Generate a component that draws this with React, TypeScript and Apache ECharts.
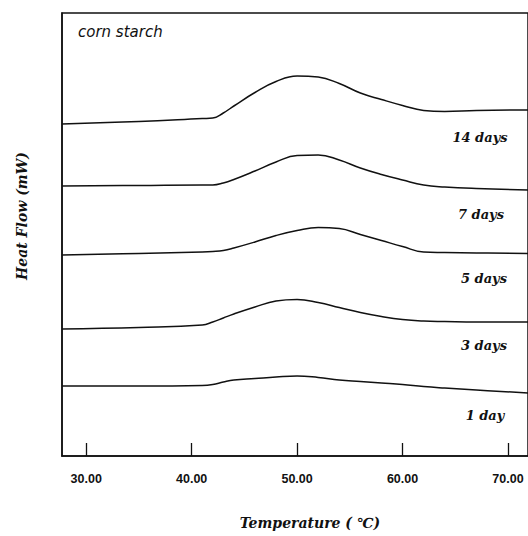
import React, { useEffect, useRef } from "react";
import * as echarts from "echarts";

// Temperature (°C) sample points
const temps = [27.7, 35, 41, 42, 43, 44, 46, 48, 50, 52, 54, 56, 58, 60, 62, 64, 67, 72];
// Heat flow traces (arbitrary offset units)
const day14 = [6.64, 6.69, 6.75, 6.76, 6.86, 7.0, 7.27, 7.49, 7.6, 7.58, 7.45, 7.26, 7.13, 7.01, 6.91, 6.89, 6.91, 6.92];
const day7 = [5.4, 5.41, 5.42, 5.42, 5.46, 5.53, 5.7, 5.88, 6.01, 6.02, 5.92, 5.76, 5.63, 5.52, 5.42, 5.38, 5.35, 5.32];
const day5 = [4.02, 4.05, 4.08, 4.09, 4.11, 4.16, 4.28, 4.41, 4.51, 4.57, 4.55, 4.43, 4.31, 4.19, 4.08, 4.07, 4.06, 4.05];
const day3 = [2.54, 2.57, 2.62, 2.68, 2.76, 2.84, 2.98, 3.1, 3.13, 3.07, 2.97, 2.87, 2.79, 2.73, 2.7, 2.69, 2.68, 2.68];
const day1 = [1.4, 1.4, 1.41, 1.43, 1.48, 1.52, 1.55, 1.58, 1.6, 1.57, 1.52, 1.49, 1.46, 1.43, 1.39, 1.36, 1.32, 1.26];

const seriesNames = ["14 days", "7 days", "5 days", "3 days", "1 day"];
const seriesData = [day14, day7, day5, day3, day1];
const tickValues = [30, 40, 50, 60, 70];

const sampleLabel = "corn starch";
const xTitle = "Temperature ( \u2103)";
const yTitle = "Heat Flow (mW)";

// label positions (pixels)
const labelPos = [
  [480, 137],
  [481, 214],
  [484, 278],
  [484, 345],
  [485, 415],
];

const serifItalic = "'DejaVu Serif', 'Liberation Serif', serif";

export default function App() {
  const ref = useRef<HTMLDivElement>(null);
  useEffect(() => {
    if (!ref.current) return;
    const chart = echarts.init(ref.current, null, { renderer: "svg" });
    const option: any = {
      animation: false,
      backgroundColor: "#ffffff",
      grid: {
        left: 62,
        top: 13,
        bottom: 80,
        right: -2,
        show: true,
        borderColor: "#111",
        borderWidth: 1.5,
        backgroundColor: "transparent",
      },
      xAxis: {
        type: "value",
        min: 27.7,
        max: 71.9,
        axisLine: { show: true, lineStyle: { color: "#111", width: 1.5 } },
        axisTick: {
          show: true,
          inside: true,
          length: 13,
          customValues: tickValues,
          lineStyle: { color: "#111", width: 1.3 },
        },
        axisLabel: {
          show: true,
          customValues: tickValues,
          formatter: (v: number) => v.toFixed(2),
          fontFamily: "'Liberation Sans', Arial, sans-serif",
          fontWeight: "bold",
          fontSize: 12.5,
          color: "#111",
          margin: 16,
        },
        splitLine: { show: false },
      },
      yAxis: {
        type: "value",
        min: 0,
        max: 8.86,
        axisLine: { show: true, lineStyle: { color: "#111", width: 1.5 } },
        axisTick: { show: false },
        axisLabel: { show: false },
        splitLine: { show: false },
      },
      series: seriesData.map((d, i) => ({
        name: seriesNames[i],
        type: "line",
        data: temps.map((t, j) => [t, d[j]]),
        smooth: 0.45,
        symbol: "none",
        lineStyle: { color: "#111", width: 1.5 },
        clip: true,
      })),
      graphic: [
        {
          type: "text",
          left: 78,
          top: 24,
          style: {
            text: sampleLabel,
            fontFamily: "'DejaVu Sans', sans-serif",
            fontStyle: "italic",
            fontSize: 15,
            fill: "#111",
          },
        },
        ...seriesNames.map((n, i) => ({
          type: "text",
          x: labelPos[i][0],
          y: labelPos[i][1],
          style: {
            text: n,
            fontFamily: serifItalic,
            fontStyle: "italic",
            fontWeight: "bold",
            fontSize: 13,
            fill: "#111",
            align: "center",
            verticalAlign: "middle",
          },
        })),
        {
          type: "text",
          x: 310,
          y: 523,
          style: {
            text: xTitle,
            fontFamily: serifItalic,
            fontStyle: "italic",
            fontWeight: "bold",
            fontSize: 14,
            fill: "#111",
            align: "center",
            verticalAlign: "middle",
          },
        },
        {
          type: "text",
          x: 22,
          y: 216,
          rotation: Math.PI / 2,
          style: {
            text: yTitle,
            fontFamily: serifItalic,
            fontStyle: "italic",
            fontWeight: "bold",
            fontSize: 14,
            fill: "#111",
            align: "center",
            verticalAlign: "middle",
          },
        },
      ],
    };
    chart.setOption(option);
    return () => chart.dispose();
  }, []);
  return (
    <div
      ref={ref}
      style={{ position: "fixed", left: 0, top: 0, width: 528, height: 536, background: "#fff" }}
    />
  );
}
